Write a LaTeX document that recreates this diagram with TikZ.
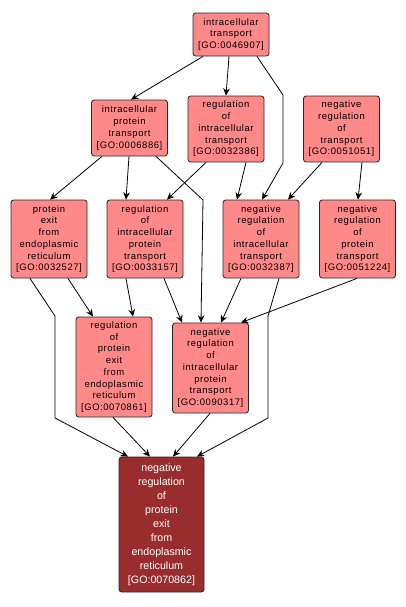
\documentclass[tikz,border=0pt]{standalone}
\usepackage{fontspec}
\usepackage{xcolor}
\usetikzlibrary{arrows.meta, calc}
\newfontfamily\gofont{Liberation Sans}[LetterSpace=6]
\newfontfamily\gobold{Liberation Sans}
\definecolor{termfill}{RGB}{255,136,136}
\definecolor{leaffill}{RGB}{153,45,45}
\definecolor{termline}{RGB}{40,40,40}

\begin{document}
\begin{tikzpicture}[
    x=0.75pt, y=-0.75pt,
    term/.style={rectangle, draw=termline, fill=termfill, rounded corners=2pt, line width=0.6pt,
                 minimum width=57pt, inner sep=0pt, align=center,
                 font=\gofont\fontsize{7.1}{8.8}\selectfont},
    leaf/.style={term, fill=leaffill, text=white, minimum width=63.75pt,
                 font=\gobold\fontsize{8}{10.5}\selectfont},
    arrow/.style={-{Stealth[length=5.5pt, width=5pt]}, line width=0.6pt},
]
\useasboundingbox (0,0) rectangle (406,607);

% top level
\node[term, minimum height=32.25pt] (g46907) at (231,34.5) {intracellular\\transport\\{[GO:0046907]}};

\node[term, minimum height=42pt]   (g6886)  at (129.5,128) {intracellular\\protein\\transport\\{[GO:0006886]}};
\node[term, minimum height=49.5pt] (g32386) at (226,129)   {regulation\\of\\intracellular\\transport\\{[GO:0032386]}};
\node[term, minimum height=49.5pt] (g51051) at (341.5,129) {negative\\regulation\\of\\transport\\{[GO:0051051]}};

\node[term, minimum height=58.5pt] (g32527) at (49,239)    {protein\\exit\\from\\endoplasmic\\reticulum\\{[GO:0032527]}};
\node[term, minimum height=58.5pt] (g33157) at (145,239)   {regulation\\of\\intracellular\\protein\\transport\\{[GO:0033157]}};
\node[term, minimum height=58.5pt] (g32387) at (261,239)   {negative\\regulation\\of\\intracellular\\transport\\{[GO:0032387]}};
\node[term, minimum height=58.5pt] (g51224) at (357.5,239) {negative\\regulation\\of\\protein\\transport\\{[GO:0051224]}};

\node[term, minimum height=75pt]   (g70861) at (114,367)   {regulation\\of\\protein\\exit\\from\\endoplasmic\\reticulum\\{[GO:0070861]}};
\node[term, minimum height=67.5pt] (g90317) at (210.5,368) {negative\\regulation\\of\\intracellular\\protein\\transport\\{[GO:0090317]}};

% queried term
\node[leaf, minimum height=101.25pt] (g70862) at (161.5,524.5) {negative\\regulation\\of\\protein\\exit\\from\\endoplasmic\\reticulum\\{[GO:0070862]}};

% is_a edges
\draw[arrow] ($(g46907.south)+(-28,0)$) -- ($(g6886.north)+(1.5,0)$);
\draw[arrow] ($(g46907.south)+(-2,0)$) -- (g32386.north);
\draw[arrow] ($(g46907.south)+(26,0)$) -- (283,95) -- (283,163) -- ($(g32387.north)+(1,0)$);

\draw[arrow] ($(g6886.south)+(-27.5,0)$) -- ($(g32527.north)+(1,0)$);
\draw[arrow] ($(g6886.south)+(-0.5,0)$) -- ($(g33157.north)+(-19,0)$);
\draw[arrow] ($(g6886.south)+(26.5,0)$) -- (203,200) -- ($(g90317.north)+(-9.5,0)$);

\draw[arrow] ($(g32386.south)+(-20,0)$) -- ($(g33157.north)+(22,0)$);
\draw[arrow] ($(g32386.south)+(20,0)$) -- ($(g32387.north)+(-24,0)$);

\draw[arrow] ($(g51051.south)+(-19.5,0)$) -- ($(g32387.north)+(27,0)$);
\draw[arrow] ($(g51051.south)+(20.5,0)$) -- ($(g51224.north)+(0.5,0)$);

\draw[arrow] ($(g32527.south)+(19,0)$) -- ($(g70861.north)+(-21,0)$);
\draw[arrow] ($(g33157.south)+(-19,0)$) -- ($(g70861.north)+(19,0)$);
\draw[arrow] ($(g33157.south)+(19,0)$) -- ($(g90317.north)+(-28.5,0)$);
\draw[arrow] ($(g32387.south)+(-20,0)$) -- ($(g90317.north)+(10.5,0)$);
\draw[arrow] ($(g51224.south)+(-0.5,0)$) -- ($(g90317.north)+(30.5,0)$);

\draw[arrow] ($(g32527.south)+(-19,0)$) -- (55,316) -- (55,418) -- ($(g70862.north)+(-33.5,0)$);
\draw[arrow] ($(g70861.south)+(-1,0)$) -- ($(g70862.north)+(-11.5,0)$);
\draw[arrow] ($(g90317.south)+(-0.5,0)$) -- ($(g70862.north)+(11.5,0)$);
\draw[arrow] ($(g32387.south)+(18,0)$) -- (268,316) -- (268,418) -- ($(g70862.north)+(35.5,0)$);

\end{tikzpicture}
\end{document}
